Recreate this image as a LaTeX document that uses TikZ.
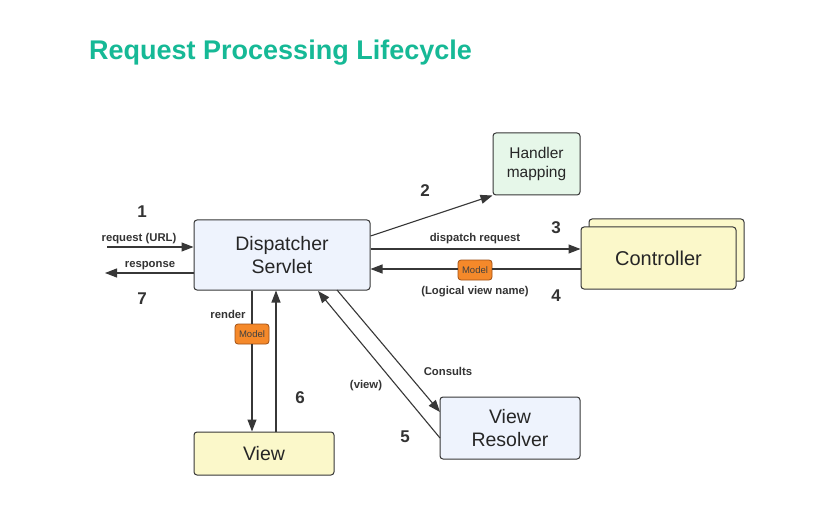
\documentclass[tikz,border=0pt]{standalone}
\usepackage{fontspec}
\setmainfont{Liberation Sans}
\usetikzlibrary{arrows.meta}
\definecolor{teal}{RGB}{22,185,150}
\definecolor{lblue}{RGB}{238,243,253}
\definecolor{lgreen}{RGB}{230,247,233}
\definecolor{lyellow}{RGB}{251,248,202}
\definecolor{lineC}{RGB}{55,55,55}
\definecolor{orangeF}{RGB}{245,137,42}
\definecolor{orangeD}{RGB}{160,80,20}
\tikzset{
  box/.style={draw=lineC, line width=1pt, rounded corners=3pt, inner sep=0pt, align=center, text=black!85},
  conn/.style={draw=lineC, line width=1.1pt, -{Triangle[length=12pt,width=9pt]}},
  plain/.style={draw=lineC, line width=1.1pt},
  lbl/.style={font=\bfseries\fontsize{11.3}{13}\selectfont, text=black!80},
  num/.style={font=\bfseries\fontsize{17}{20}\selectfont, text=black!80},
  badge/.style={draw=orangeD, fill=orangeF, rounded corners=3pt, line width=0.8pt, minimum width=34pt, minimum height=20pt, inner sep=0pt, font=\fontsize{9.5}{10}\selectfont, text=black!75},
}
\begin{document}
\begin{tikzpicture}[x=1pt,y=-1pt]
\useasboundingbox[fill=white] (0,0) rectangle (828,532);
\node[anchor=base west, text=teal, font=\bfseries\fontsize{27}{32}\selectfont, inner sep=0pt] (title) at (89,60) {Request Processing Lifecycle};

% boxes
\node[box, fill=lblue, minimum width=176pt, minimum height=70pt, font=\fontsize{19.5}{23}\selectfont] (ds) at (282,255) {Dispatcher\\Servlet};
\node[box, fill=lgreen, minimum width=87pt, minimum height=62pt, font=\fontsize{15.5}{19}\selectfont] (hm) at (536.5,164) {Handler\\mapping};
\node[box, fill=lyellow, minimum width=155pt, minimum height=62pt] (cback) at (666.5,250) {};
\node[box, fill=lyellow, minimum width=155pt, minimum height=62pt, font=\fontsize{20}{23}\selectfont] (ctrl) at (658.5,258) {Controller};
\node[box, fill=lblue, minimum width=140pt, minimum height=62pt, font=\fontsize{19.5}{23}\selectfont] (vr) at (510,428) {View\\Resolver};
\node[box, fill=lyellow, minimum width=140pt, minimum height=43pt, font=\fontsize{19.5}{23}\selectfont] (view) at (264,453.5) {View};

% 1 / 7
\coordinate (reqS) at (107,247);
\coordinate (respE) at (105,273);
\draw[conn] (reqS) -- (ds.west |- reqS);
\draw[conn] (ds.west |- respE) -- (respE);
\node[lbl] (reql) at (139,239) {request (URL)};
\node[lbl] (respl) at (150,266) {response};
\node[num] (n1) at (142,212) {1};
\node[num] (n7) at (142,299) {7};

% 2
\draw[conn] (ds.east |- 0,236) -- (hm.south west);
\node[num] (n2) at (425,191) {2};

% 3
\draw[conn] (ds.east |- 0,249) -- (ctrl.west |- 0,249);
\node[lbl] (dr) at (475,239) {dispatch request};
\node[num] (n3) at (556,228) {3};

% 4
\node[badge] (m1) at (475,270) {Model};
\draw[plain] (ctrl.west |- 0,269) -- (m1.east |- 0,269);
\draw[conn] (m1.west |- 0,269) -- (ds.east |- 0,269);
\node[lbl] (lvn) at (475,292) {(Logical view name)};
\node[num] (n4) at (556,296) {4};

% render
\node[badge] (m2) at (252,334) {Model};
\draw[plain] (ds.south -| 252,0) -- (m2.north);
\draw[conn] (m2.south) -- (view.north -| 252,0);
\node[lbl] (rl) at (228,314) {render};

% 6
\draw[conn] (view.north -| 276,0) -- (ds.south -| 276,0);
\node[num] (n6) at (300,398) {6};

% consults
\coordinate (cs) at (337,290);
\coordinate (ce) at (440,412);
\draw[conn] (cs) -- (ce);
\node[lbl] (cl) at (448,371) {Consults};

% view back
\coordinate (vs) at (440,438);
\coordinate (ve) at (318,291);
\draw[conn] (vs) -- (ve);
\node[lbl] (vl) at (366,386) {(view)};
\node[num] (n5) at (405,437) {5};
\end{tikzpicture}
\end{document}
